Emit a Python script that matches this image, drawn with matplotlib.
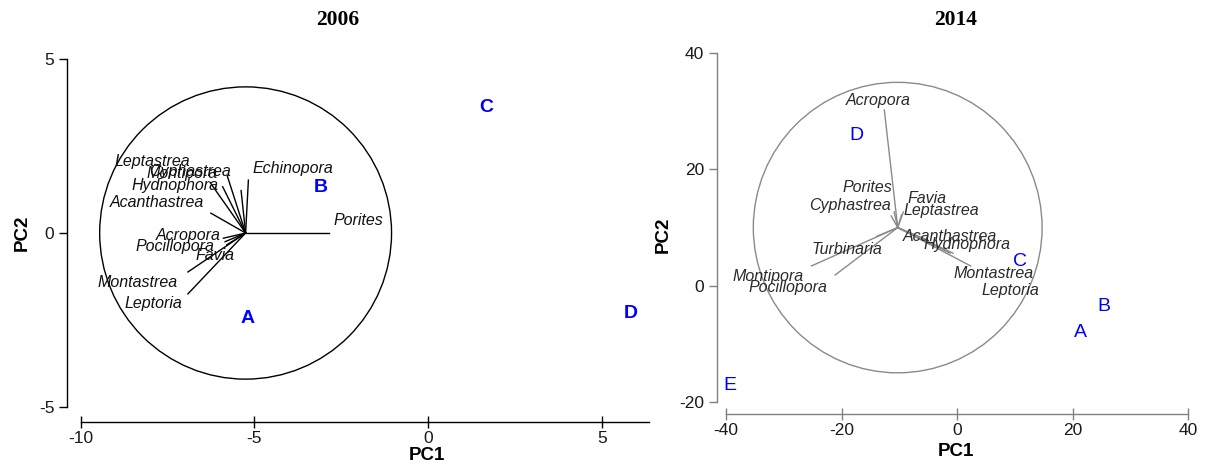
import matplotlib
matplotlib.use("Agg")
import matplotlib.pyplot as plt
from matplotlib.patches import Circle

plt.rcParams["font.family"] = ["Liberation Sans", "DejaVu Sans"]
plt.rcParams["axes.unicode_minus"] = False

W, H = 1207, 468

# ---- 2006 biplot ----
SPECIES_06 = ["Leptastrea", "Cyphastrea", "Montipora", "Hydnophora", "Acanthastrea",
              "Echinopora", "Porites", "Acropora", "Pocillopora", "Favia",
              "Montastrea", "Leptoria"]
VEC_X_06 = [-5.91, -5.78, -5.38, -6.27, -6.25, -5.17, -2.84, -5.84, -5.89, -5.79, -6.91, -6.91]
VEC_Y_06 = [1.33, 1.65, 1.22, 1.45, 0.57, 1.52, 0.0, -0.25, -0.15, -0.34, -1.12, -1.75]
LAB_X_06 = [-7.94, -6.85, -7.09, -7.28, -7.81, -3.89, -2.01, -6.91, -7.28, -6.13, -8.37, -7.91]
LAB_Y_06 = [2.05, 1.76, 1.70, 1.36, 0.89, 1.84, 0.37, -0.08, -0.40, -0.65, -1.41, -2.04]
SITES_06 = ["A", "B", "C", "D"]
SITE_X_06 = [-5.2, -3.1, 1.67, 5.84]
SITE_Y_06 = [-2.47, 1.32, 3.6, -2.3]
ORIGIN_06 = (-5.25, 0.0)
RADIUS_06 = 4.2

# ---- 2014 biplot ----
SPECIES_14 = ["Acropora", "Porites", "Cyphastrea", "Favia", "Leptastrea", "Acanthastrea",
              "Hydnophora", "Turbinaria", "Montipora", "Pocillopora", "Montastrea", "Leptoria"]
VEC_X_14 = [-12.59, -10.9, -11.4, -9.3, -9.6, -5.2, -1.2, -13.9, -25.2, -21.1, 2.37, -0.7]
VEC_Y_14 = [30.24, 12.7, 12.0, 12.7, 12.2, 7.9, 5.6, 8.5, 3.4, 1.84, 3.39, 5.6]
LAB_X_14 = [-13.56, -15.56, -18.53, -5.25, -2.65, -1.21, 1.68, -19.1, -32.7, -29.2, 6.29, 9.2]
LAB_Y_14 = [31.84, 16.91, 13.72, 15.08, 12.9, 8.55, 7.12, 6.15, 1.55, -0.27, 2.03, -0.86]
SITES_14 = ["A", "B", "C", "D", "E"]
SITE_X_14 = [21.3, 25.5, 10.9, -17.5, -39.4]
SITE_Y_14 = [-8.1, -3.5, 4.1, 25.9, -17.1]
ORIGIN_14 = (-10.27, 10.0)
RADIUS_14 = 25.0


def px_rect(x0, y0, x1, y1):
    """Figure-fraction rect from pixel box (top-left origin)."""
    return [x0 / W, 1 - y1 / H, (x1 - x0) / W, (y1 - y0) / H]


def style_axes(ax, color, xspine_at, yspine_at, xbounds, ybounds, xticks, yticks):
    for s in ("top", "right"):
        ax.spines[s].set_visible(False)
    ax.spines["left"].set_position(("data", yspine_at))
    ax.spines["bottom"].set_position(("data", xspine_at))
    ax.spines["left"].set_bounds(*ybounds)
    ax.spines["bottom"].set_bounds(*xbounds)
    for s in ("left", "bottom"):
        ax.spines[s].set_color(color)
        ax.spines[s].set_linewidth(1.0)
    ax.set_xticks(xticks)
    ax.set_yticks(yticks)
    ax.tick_params(axis="x", direction="inout", length=9, width=1.0, color=color,
                   labelsize=12.5, pad=2, labelcolor="#1a1a1a")
    ax.tick_params(axis="y", direction="out", length=6, width=1.0, color=color,
                   labelsize=12.5, pad=3, labelcolor="#1a1a1a")
    ax.patch.set_visible(False)


def draw_biplot(ax, origin, radius, vx, vy, names, lx, ly, sites, sx, sy,
                line_color, text_color, site_weight):
    ax.add_patch(Circle(origin, radius, fill=False, edgecolor=line_color,
                        linewidth=1.0, clip_on=False))
    for x, y in zip(vx, vy):
        ax.plot([origin[0], x], [origin[1], y], color=line_color, linewidth=1.0,
                clip_on=False)
    for name, x, y in zip(names, lx, ly):
        ax.text(x, y, name, ha="center", va="center", fontsize=11.5,
                fontstyle="italic", color=text_color, clip_on=False)
    for s, x, y in zip(sites, sx, sy):
        ax.text(x, y, s, ha="center", va="center", fontsize=14,
                fontweight=site_weight, color="#0000ff", clip_on=False)


fig = plt.figure(figsize=(W / 100, H / 100), dpi=100)

ax1 = fig.add_axes(px_rect(59.7, 48.6, 653.9, 434.8))
ax1.set_xlim(-10.6, 6.5)
ax1.set_ylim(-5.8, 5.3)
style_axes(ax1, "black", -5.43, -10.39, (-10, 6.35), (-5, 5), [-10, -5, 0, 5], [-5, 0, 5])
draw_biplot(ax1, ORIGIN_06, RADIUS_06, VEC_X_06, VEC_Y_06, SPECIES_06, LAB_X_06, LAB_Y_06,
            SITES_06, SITE_X_06, SITE_Y_06, "black", "#111111", "bold")

ax2 = fig.add_axes(px_rect(702.9, 24.25, 1199.6, 425.1))
ax2.set_xlim(-44, 42)
ax2.set_ylim(-24, 45)
style_axes(ax2, "#808080", -22.1, -41.6, (-40, 40), (-20, 40),
           [-40, -20, 0, 20, 40], [-20, 0, 20, 40])
draw_biplot(ax2, ORIGIN_14, RADIUS_14, VEC_X_14, VEC_Y_14, SPECIES_14, LAB_X_14, LAB_Y_14,
            SITES_14, SITE_X_14, SITE_Y_14, "#8a8a8a", "#2a2a2a", "normal")

# Titles and axis names placed in pixel space.
for x, txt in ((338, "2006"), (956, "2014")):
    fig.text(x / W, 1 - 20 / H, txt, ha="center", va="center", fontsize=15.5,
             fontweight="bold", family=["Liberation Serif", "DejaVu Serif"])
fig.text(427 / W, 1 - 455 / H, "PC1", ha="center", va="center", fontsize=13.5, fontweight="bold")
fig.text(22 / W, 1 - 233 / H, "PC2", ha="center", va="center", fontsize=13.5,
         fontweight="bold", rotation=90)
fig.text(956 / W, 1 - 452 / H, "PC1", ha="center", va="center", fontsize=13.5, fontweight="bold")
fig.text(663 / W, 1 - 235 / H, "PC2", ha="center", va="center", fontsize=13.5,
         fontweight="bold", rotation=90)

fig.savefig("out.png", dpi=100, facecolor="white")
